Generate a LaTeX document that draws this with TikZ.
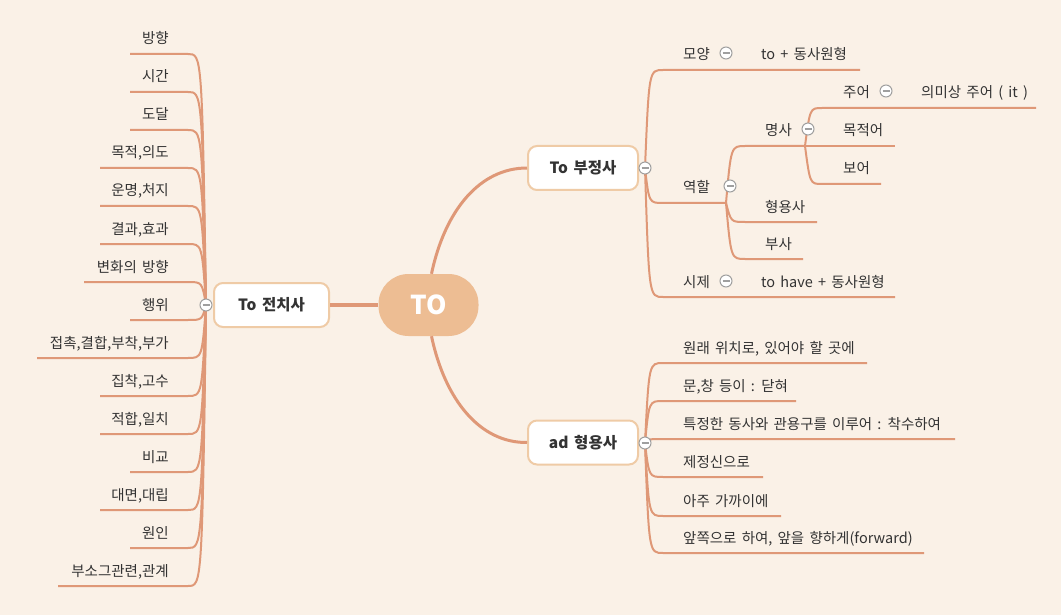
\documentclass[tikz,border=0pt]{standalone}
\usepackage{fontspec}
\setmainfont[WordSpace=1.6]{Noto Sans CJK KR}
\usetikzlibrary{positioning}

\definecolor{paper}{HTML}{FAF1E7}
\definecolor{twigcol}{HTML}{DF9877}
\definecolor{hubcol}{HTML}{EDBD93}
\definecolor{rimcol}{HTML}{EFCBA6}
\definecolor{ink}{HTML}{333333}

\tikzset{
  topic/.style={draw=rimcol, line width=2pt, fill=white, rounded corners=9pt,
    minimum height=44pt, text=ink, font=\fontsize{15.5}{18}\selectfont\bfseries},
  leaf/.style={inner sep=0pt, text=ink, font=\fontsize{14.5}{17}\selectfont},
  twig/.style={draw=twigcol, line width=2pt},
  limb/.style={draw=twigcol, line width=3pt},
  fold/.style={circle, draw=gray!75, fill=white, line width=1pt, minimum size=12pt, inner sep=0pt,
    path picture={\draw[gray!75, line width=1.3pt]
      ([xshift=-3.5pt]path picture bounding box.center) -- ([xshift=3.5pt]path picture bounding box.center);}}
}

\begin{document}
\begin{tikzpicture}[x=1pt, y=-1pt]

  \fill[paper] (0,0) rectangle (1061,615);

  % centre and main topics
  \node[fill=hubcol, rounded corners=30pt, minimum width=100pt, minimum height=62pt,
        text=white, font=\fontsize{26}{30}\selectfont\bfseries] (TO) at (428.5,305) {TO};
  \node[topic, minimum width=110pt] (inf)  at (583,168)   {To 부정사};
  \node[topic, minimum width=110pt] (adj)  at (583,442.5) {ad 형용사};
  \node[topic, minimum width=115pt] (prep) at (271.5,305) {To 전치사};

  \coordinate (inf-f)  at (645,168);
  \coordinate (adj-f)  at (645,443);
  \coordinate (prep-f) at (206,305);

  \draw[limb] ([xshift=3pt]TO.north) .. controls (445,210) and (480,168) .. (inf.west);
  \draw[limb] ([xshift=3pt]TO.south) .. controls (445,400) and (480,443) .. (adj.west);
  \draw[limb, line width=3.5pt] (TO.west) -- (prep.east);

  % To 부정사
  \draw[twig] (inf-f) .. controls (649,70)  .. (663,70)  -- (860,70);
  \draw[twig] (inf-f) .. controls (649,203) .. (663,203) -- (726,203) coordinate (role);
  \draw[twig] (inf-f) .. controls (649,297) .. (663,297) -- (895,297);
  \draw[twig] (role) .. controls (731,146) .. (745,146) -- (805,146) coordinate (noun);
  \draw[twig] (role) .. controls (731,222) .. (745,222) -- (817,222);
  \draw[twig] (role) .. controls (731,259) .. (745,259) -- (803,259);
  \draw[twig] (noun) .. controls (810,108) .. (822,108) -- (1036,108);
  \draw[twig] (noun) -- (895,146);
  \draw[twig] (noun) .. controls (810,184) .. (822,184) -- (881,184);

  \node[leaf, anchor=base west] (shape)  at (683,60)  {모양};
  \node[leaf, anchor=base west] (shape1) at (761,60)  {to + 동사원형};
  \node[leaf, anchor=base west] (rolet)  at (683,193) {역할};
  \node[leaf, anchor=base west] (tense)  at (683,287) {시제};
  \node[leaf, anchor=base west] (tense1) at (761,287) {to have + 동사원형};
  \node[leaf, anchor=base west] (nount)  at (765,136) {명사};
  \node[leaf, anchor=base west] (subj)   at (843,98)  {주어};
  \node[leaf, anchor=base west] (subj1)  at (921,98)  {의미상 주어 ( it )};
  \node[leaf, anchor=base west] (obj)    at (843,136) {목적어};
  \node[leaf, anchor=base west] (comp)   at (843,174) {보어};
  \node[leaf, anchor=base west] (adjt)   at (765,212) {형용사};
  \node[leaf, anchor=base west] (advt)   at (765,249) {부사};

  % ad 형용사
  \foreach \t/\y/\r [count=\i] in {{원래 위치로, 있어야 할 곳에}/363/867, {문,창 등이 : 닫혀}/401/796,
      {특정한 동사와 관용구를 이루어 : 착수하여}/439/955, 제정신으로/477/763,
      아주 가까이에/516/781, {앞쪽으로 하여, 앞을 향하게(forward)}/553/924}{
    \draw[twig] (adj-f) .. controls (649,\y) .. (663,\y) -- (\r,\y);
    \node[leaf, anchor=base west] (a\i) at (683,\y-10) {\t};
  }

  % To 전치사
  \foreach \t/\y/\l [count=\i] in {방향/54/130, 시간/92/130, 도달/130/130, {목적,의도}/168/100,
      {운명,처지}/206/100, {결과,효과}/244/100, 변화의 방향/282/84, 행위/320/130,
      {접촉,결합,부착,부가}/358/37, {집착,고수}/396/100, {적합,일치}/434/100, 비교/472/130,
      {대면,대립}/510/100, 원인/548/130, {부소그관련,관계}/586/58}{
    \draw[twig] (prep-f) .. controls (202,\y) .. (188,\y) -- (\l,\y);
    \node[leaf, anchor=base east] (p\i) at (169,\y-10) {\t};
  }

  % fold buttons
  \node[fold] (f1) at (inf-f)   {};
  \node[fold] (f2) at (adj-f)   {};
  \node[fold] (f3) at (prep-f)  {};
  \node[fold] (f4) at (726,53)  {};
  \node[fold] (f5) at (730,186) {};
  \node[fold] (f6) at (726,281) {};
  \node[fold] (f7) at (808,129) {};
  \node[fold] (f8) at (886,91)  {};

\end{tikzpicture}
\end{document}
